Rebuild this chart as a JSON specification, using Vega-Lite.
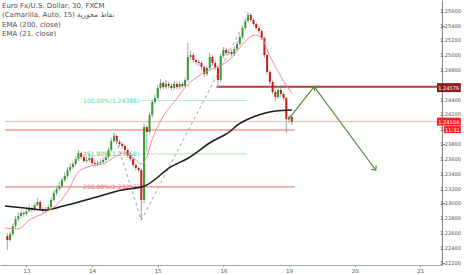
{
"$schema": "https://vega.github.io/schema/vega-lite/v6.json",
"width": 442, "height": 265,
"autosize": {"type": "none"},
"padding": {"left": 0, "top": 0, "right": 24, "bottom": 10},
"background": "white",
"config": {"view": {"stroke": null}, "font": "DejaVu Sans",
 "axis": {"labelOverlap": false, "labelBound": false, "grid": false, "title": null, "labelFont": "DejaVu Sans", "labelColor": "#555555"},
 "axisY": {"domainColor": "#888888", "tickColor": "#888888", "tickSize": 2.5, "labels": false},
 "axisX": {"domainColor": "#aaaaaa", "tickColor": "#aaaaaa", "tickSize": 2, "labelFontSize": 5.5, "labelPadding": 1}
},
"title": {"text": ["Euro Fx/U.S. Dollar, 30, FXCM", " (Camarilla, Auto, 15) نقاط محورية", "EMA (200, close)", "EMA (21, close)"], "anchor": "start", "frame": "group", "orient": "top", "font": "DejaVu Sans", "fontSize": 7, "fontWeight": "normal", "color": "#505050", "lineHeight": 9.3, "baseline": "top", "offset": 0, "dx": 2, "dy": 37},
"datasets": {
"candles": [
{"t":-7,"o":1.22560,"h":1.22600,"l":1.22371,"c":1.22506},
{"t":-6,"o":1.22506,"h":1.22620,"l":1.22480,"c":1.22587},
{"t":-5,"o":1.22587,"h":1.22730,"l":1.22560,"c":1.22695},
{"t":-4,"o":1.22695,"h":1.22830,"l":1.22670,"c":1.22790},
{"t":-3,"o":1.22790,"h":1.22880,"l":1.22760,"c":1.22830},
{"t":-2,"o":1.22830,"h":1.22910,"l":1.22800,"c":1.22871},
{"t":-1,"o":1.22871,"h":1.22900,"l":1.22820,"c":1.22857},
{"t":0,"o":1.22857,"h":1.22940,"l":1.22830,"c":1.22898},
{"t":1,"o":1.22898,"h":1.22980,"l":1.22880,"c":1.22938},
{"t":2,"o":1.22938,"h":1.22960,"l":1.22880,"c":1.22911},
{"t":3,"o":1.22911,"h":1.23010,"l":1.22890,"c":1.22979},
{"t":4,"o":1.22979,"h":1.23070,"l":1.22960,"c":1.23019},
{"t":5,"o":1.23019,"h":1.23040,"l":1.22900,"c":1.22925},
{"t":6,"o":1.22925,"h":1.22950,"l":1.22870,"c":1.22898},
{"t":7,"o":1.22898,"h":1.22950,"l":1.22870,"c":1.22911},
{"t":8,"o":1.22911,"h":1.22990,"l":1.22890,"c":1.22952},
{"t":9,"o":1.22952,"h":1.23080,"l":1.22930,"c":1.23046},
{"t":10,"o":1.23046,"h":1.23180,"l":1.23020,"c":1.23141},
{"t":11,"o":1.23141,"h":1.23240,"l":1.23110,"c":1.23195},
{"t":12,"o":1.23195,"h":1.23290,"l":1.23170,"c":1.23235},
{"t":13,"o":1.23235,"h":1.23350,"l":1.23200,"c":1.23316},
{"t":14,"o":1.23316,"h":1.23420,"l":1.23290,"c":1.23370},
{"t":15,"o":1.23370,"h":1.23490,"l":1.23340,"c":1.23451},
{"t":16,"o":1.23451,"h":1.23540,"l":1.23420,"c":1.23492},
{"t":17,"o":1.23492,"h":1.23570,"l":1.23460,"c":1.23532},
{"t":18,"o":1.23532,"h":1.23640,"l":1.23500,"c":1.23599},
{"t":19,"o":1.23599,"h":1.23720,"l":1.23570,"c":1.23680},
{"t":20,"o":1.23680,"h":1.23700,"l":1.23600,"c":1.23626},
{"t":21,"o":1.23626,"h":1.23650,"l":1.23540,"c":1.23572},
{"t":22,"o":1.23572,"h":1.23630,"l":1.23540,"c":1.23586},
{"t":23,"o":1.23586,"h":1.23660,"l":1.23560,"c":1.23613},
{"t":24,"o":1.23613,"h":1.23640,"l":1.23520,"c":1.23545},
{"t":25,"o":1.23545,"h":1.23580,"l":1.23500,"c":1.23532},
{"t":26,"o":1.23532,"h":1.23580,"l":1.23510,"c":1.23545},
{"t":27,"o":1.23545,"h":1.23600,"l":1.23520,"c":1.23559},
{"t":28,"o":1.23559,"h":1.23620,"l":1.23530,"c":1.23586},
{"t":29,"o":1.23586,"h":1.23670,"l":1.23560,"c":1.23626},
{"t":30,"o":1.23626,"h":1.23760,"l":1.23600,"c":1.23721},
{"t":31,"o":1.23721,"h":1.23880,"l":1.23700,"c":1.23842},
{"t":32,"o":1.23842,"h":1.23960,"l":1.23820,"c":1.23910},
{"t":33,"o":1.23910,"h":1.23930,"l":1.23800,"c":1.23829},
{"t":34,"o":1.23829,"h":1.23860,"l":1.23770,"c":1.23802},
{"t":35,"o":1.23802,"h":1.23830,"l":1.23740,"c":1.23775},
{"t":36,"o":1.23775,"h":1.23800,"l":1.23690,"c":1.23721},
{"t":37,"o":1.23721,"h":1.23740,"l":1.23620,"c":1.23653},
{"t":38,"o":1.23653,"h":1.23680,"l":1.23570,"c":1.23599},
{"t":39,"o":1.23599,"h":1.23620,"l":1.23490,"c":1.23518},
{"t":40,"o":1.23518,"h":1.23540,"l":1.23450,"c":1.23478},
{"t":41,"o":1.23478,"h":1.23500,"l":1.23420,"c":1.23451},
{"t":42,"o":1.23451,"h":1.23470,"l":1.22774,"c":1.23046},
{"t":43,"o":1.23046,"h":1.24080,"l":1.23000,"c":1.24031},
{"t":44,"o":1.24031,"h":1.24050,"l":1.23700,"c":1.23964},
{"t":45,"o":1.23964,"h":1.24230,"l":1.23940,"c":1.24193},
{"t":46,"o":1.24193,"h":1.24400,"l":1.24160,"c":1.24369},
{"t":47,"o":1.24369,"h":1.24470,"l":1.24340,"c":1.24423},
{"t":48,"o":1.24423,"h":1.24600,"l":1.24400,"c":1.24558},
{"t":49,"o":1.24558,"h":1.24680,"l":1.24530,"c":1.24625},
{"t":50,"o":1.24625,"h":1.24650,"l":1.24540,"c":1.24571},
{"t":51,"o":1.24571,"h":1.24660,"l":1.24540,"c":1.24612},
{"t":52,"o":1.24612,"h":1.24640,"l":1.24550,"c":1.24585},
{"t":53,"o":1.24585,"h":1.24620,"l":1.24520,"c":1.24558},
{"t":54,"o":1.24558,"h":1.24650,"l":1.24530,"c":1.24612},
{"t":55,"o":1.24612,"h":1.24640,"l":1.24540,"c":1.24571},
{"t":56,"o":1.24571,"h":1.24650,"l":1.24540,"c":1.24612},
{"t":57,"o":1.24612,"h":1.24640,"l":1.24550,"c":1.24585},
{"t":58,"o":1.24585,"h":1.24700,"l":1.24560,"c":1.24666},
{"t":59,"o":1.24666,"h":1.25165,"l":1.24640,"c":1.24976},
{"t":60,"o":1.24976,"h":1.25060,"l":1.24940,"c":1.25003},
{"t":61,"o":1.25003,"h":1.25030,"l":1.24900,"c":1.24935},
{"t":62,"o":1.24935,"h":1.24960,"l":1.24870,"c":1.24908},
{"t":63,"o":1.24908,"h":1.24940,"l":1.24850,"c":1.24895},
{"t":64,"o":1.24895,"h":1.24920,"l":1.24800,"c":1.24841},
{"t":65,"o":1.24841,"h":1.24860,"l":1.24700,"c":1.24747},
{"t":66,"o":1.24747,"h":1.24860,"l":1.24720,"c":1.24828},
{"t":67,"o":1.24828,"h":1.25040,"l":1.24800,"c":1.24976},
{"t":68,"o":1.24976,"h":1.25000,"l":1.24860,"c":1.24895},
{"t":69,"o":1.24895,"h":1.24930,"l":1.24800,"c":1.24828},
{"t":70,"o":1.24828,"h":1.24850,"l":1.24571,"c":1.24666},
{"t":71,"o":1.24666,"h":1.25020,"l":1.24640,"c":1.24989},
{"t":72,"o":1.24989,"h":1.25110,"l":1.24960,"c":1.25070},
{"t":73,"o":1.25070,"h":1.25100,"l":1.25000,"c":1.25030},
{"t":74,"o":1.25030,"h":1.25080,"l":1.25000,"c":1.25043},
{"t":75,"o":1.25043,"h":1.25070,"l":1.24980,"c":1.25016},
{"t":76,"o":1.25016,"h":1.25120,"l":1.24990,"c":1.25084},
{"t":77,"o":1.25084,"h":1.25190,"l":1.25060,"c":1.25151},
{"t":78,"o":1.25151,"h":1.25280,"l":1.25130,"c":1.25246},
{"t":79,"o":1.25246,"h":1.25400,"l":1.25220,"c":1.25367},
{"t":80,"o":1.25367,"h":1.25500,"l":1.25340,"c":1.25462},
{"t":81,"o":1.25462,"h":1.25583,"l":1.25440,"c":1.25543},
{"t":82,"o":1.25543,"h":1.25570,"l":1.25450,"c":1.25475},
{"t":83,"o":1.25475,"h":1.25500,"l":1.25390,"c":1.25421},
{"t":84,"o":1.25421,"h":1.25440,"l":1.25340,"c":1.25367},
{"t":85,"o":1.25367,"h":1.25400,"l":1.25300,"c":1.25327},
{"t":86,"o":1.25327,"h":1.25350,"l":1.25200,"c":1.25232},
{"t":87,"o":1.25232,"h":1.25250,"l":1.24970,"c":1.25003},
{"t":88,"o":1.25003,"h":1.25020,"l":1.24740,"c":1.24774},
{"t":89,"o":1.24774,"h":1.24800,"l":1.24600,"c":1.24639},
{"t":90,"o":1.24639,"h":1.24660,"l":1.24470,"c":1.24504},
{"t":91,"o":1.24504,"h":1.24530,"l":1.24380,"c":1.24436},
{"t":92,"o":1.24436,"h":1.24580,"l":1.24410,"c":1.24531},
{"t":93,"o":1.24531,"h":1.24560,"l":1.24440,"c":1.24477},
{"t":94,"o":1.24477,"h":1.24500,"l":1.24390,"c":1.24423},
{"t":95,"o":1.24423,"h":1.24440,"l":1.23950,"c":1.24139},
{"t":96,"o":1.24139,"h":1.24200,"l":1.24080,"c":1.24166},
{"t":97,"o":1.24166,"h":1.24180,"l":1.24060,"c":1.24104}
],
"ema21": [
{"t":-7.85,"v":1.22668},{"t":-3.21,"v":1.22655},{"t":1.07,"v":1.22776},{"t":6.42,"v":1.22871},{"t":11.77,"v":1.23006},{"t":15.34,"v":1.23181},{"t":18.9,"v":1.23424},{"t":22.47,"v":1.23492},{"t":28.89,"v":1.23545},{"t":32.1,"v":1.23626},{"t":36.02,"v":1.2368},{"t":39.59,"v":1.23599},{"t":42.08,"v":1.23532},{"t":43.87,"v":1.23613},{"t":45.65,"v":1.23829},{"t":49.22,"v":1.24126},{"t":54.56,"v":1.24396},{"t":58.84,"v":1.24598},{"t":63.48,"v":1.24733},{"t":69.54,"v":1.24841},{"t":74.18,"v":1.24935},{"t":78.82,"v":1.25138},{"t":81.31,"v":1.25232},{"t":83.81,"v":1.25273},{"t":85.95,"v":1.25232},{"t":89.16,"v":1.24976},{"t":92.72,"v":1.24733},{"t":94.86,"v":1.24598},{"t":97.0,"v":1.2449}
],
"ema200": [
{"t":-7.85,"v":1.22965},{"t":-0.71,"v":1.22938},{"t":6.42,"v":1.22911},{"t":13.55,"v":1.22965},{"t":24.25,"v":1.23073},{"t":34.95,"v":1.23181},{"t":43.15,"v":1.23235},{"t":52.78,"v":1.23492},{"t":59.2,"v":1.23613},{"t":68.12,"v":1.23842},{"t":73.11,"v":1.23937},{"t":77.75,"v":1.24072},{"t":84.88,"v":1.24193},{"t":90.94,"v":1.24247},{"t":97.0,"v":1.24261}
],
"hlines": [
{"name":"last","p":1.24104,"t1":-7.85,"t2":150.1},
{"name":"pivot","p":1.23991,"t1":-7.85,"t2":98.1},
{"name":"ext200","p":1.23223,"t1":-7.85,"t2":98.1},
{"name":"fib100","p":1.24388,"t1":41.4,"t2":80.6},
{"name":"fib161","p":1.23668,"t1":41.4,"t2":80.6},
{"name":"resistance","p":1.24576,"t1":69.5,"t2":150.1}
],
"fibtext": [
{"name":"fib100","label":"100.00%(1.24388)","p":1.24388,"t":20.7},
{"name":"fib161","label":"161.80%(1.23668)","p":1.23668,"t":20.7},
{"name":"ext200","label":"200.00%(1.23223)","p":1.23223,"t":20.7}
],
"fibpath": [
{"t":32.1,"p":1.23937},{"t":42,"p":1.22774},{"t":81.3,"p":1.25553}
],
"arrow": [
{"t":95.6,"p":1.24126},{"t":105.2,"p":1.24576},{"t":127.7,"p":1.23451}
],
"yticks": [
{"v":1.222},{"v":1.224},{"v":1.226},{"v":1.228},{"v":1.230},{"v":1.232},{"v":1.234},{"v":1.236},{"v":1.238},{"v":1.240},{"v":1.242},{"v":1.244},{"v":1.246},{"v":1.248},{"v":1.250},{"v":1.252},{"v":1.254},{"v":1.256}
]
},
"layer": [
{"data": {"name": "hlines"}, "mark": {"type": "rule"},
 "encoding": {
  "x": {"field": "t1", "type": "quantitative", "scale": {"domain": [-7.85, 150.1], "nice": false, "zero": false},
   "axis": {"orient": "bottom", "values": [0,24,48,72,96,120,144], "labelExpr": "['13','14','15','16','19','20','21'][round(datum.value/24)]"}},
  "x2": {"field": "t2"},
  "y": {"field": "p", "type": "quantitative", "scale": {"domain": [1.22169, 1.25745], "nice": false, "zero": false},
   "axis": {"orient": "right", "values": [1.222,1.224,1.226,1.228,1.23,1.232,1.234,1.236,1.238,1.24,1.242,1.244,1.246,1.248,1.25,1.252,1.254,1.256], "labels": false}},
  "color": {"field": "name", "type": "nominal", "legend": null,
   "scale": {"domain": ["last","pivot","ext200","fib100","fib161","resistance"], "range": ["#f7b3b3","#e46a6a","#e46a6a","#aef0d4","#a9e8b1","#b03c3c"]}},
  "strokeWidth": {"condition": {"test": "datum.name === 'resistance'", "value": 2}, "value": 1}
 }},
{"data": {"name": "yticks"}, "mark": {"type": "text", "align": "left", "baseline": "middle", "font": "DejaVu Sans", "fontSize": 5.1, "color": "#555555", "dx": 3},
 "encoding": {"x": {"datum": 150.1, "type": "quantitative"}, "y": {"field": "v", "type": "quantitative"}, "text": {"field": "v", "type": "quantitative", "format": ".5f"}}},
{"data": {"name": "fibtext"}, "mark": {"type": "text", "align": "left", "baseline": "middle", "font": "DejaVu Sans", "fontSize": 6},
 "encoding": {
  "x": {"field": "t", "type": "quantitative"},
  "y": {"field": "p", "type": "quantitative"},
  "text": {"field": "label"},
  "color": {"field": "name", "type": "nominal", "legend": null,
   "scale": {"domain": ["fib100","fib161","ext200"], "range": ["#4fd99c","#52c46a","#ec6c6c"]}}
 }},
{"data": {"name": "candles"}, "mark": {"type": "rule", "color": "#a3a3a3", "strokeWidth": 1},
 "encoding": {"x": {"field": "t", "type": "quantitative"}, "y": {"field": "l", "type": "quantitative"}, "y2": {"field": "h"}}},
{"data": {"name": "candles"}, "mark": {"type": "bar", "width": 2},
 "encoding": {"x": {"field": "t", "type": "quantitative"}, "y": {"field": "o", "type": "quantitative"}, "y2": {"field": "c"},
  "color": {"condition": {"test": "datum.c >= datum.o", "value": "#2f9e2f"}, "value": "#cc1a1a"}}},
{"data": {"name": "ema200"}, "mark": {"type": "line", "color": "#1a1a1a", "strokeWidth": 1.5, "interpolate": "monotone"},
 "encoding": {"x": {"field": "t", "type": "quantitative"}, "y": {"field": "v", "type": "quantitative"}}},
{"data": {"name": "ema21"}, "mark": {"type": "line", "color": "#f28a8a", "strokeWidth": 1, "interpolate": "monotone"},
 "encoding": {"x": {"field": "t", "type": "quantitative"}, "y": {"field": "v", "type": "quantitative"}}},
{"data": {"name": "fibpath"}, "mark": {"type": "line", "color": "#a0a0a0", "strokeWidth": 1, "strokeDash": [3, 3]},
 "encoding": {"x": {"field": "t", "type": "quantitative"}, "y": {"field": "p", "type": "quantitative"}}},
{"data": {"name": "arrow"}, "mark": {"type": "line", "color": "#4b8b2b", "strokeWidth": 1.2},
 "encoding": {"x": {"field": "t", "type": "quantitative"}, "y": {"field": "p", "type": "quantitative"}}},
{"data": {"values": [{"t":105.2,"p":1.24576}]}, "mark": {"type": "point", "shape": "M-1,1L0,0L1,1", "filled": false, "color": "#4b8b2b", "strokeWidth": 1.2, "size": 40, "angle": 40, "opacity": 1},
 "encoding": {"x": {"field": "t", "type": "quantitative"}, "y": {"field": "p", "type": "quantitative"}}},
{"data": {"values": [{"t":127.7,"p":1.23451}]}, "mark": {"type": "point", "shape": "M-1,1L0,0L1,1", "filled": false, "color": "#4b8b2b", "strokeWidth": 1.2, "size": 40, "angle": 142, "opacity": 1},
 "encoding": {"x": {"field": "t", "type": "quantitative"}, "y": {"field": "p", "type": "quantitative"}}},
{"data": {"values": [{"label":"1.24576","p":1.24576}]}, "mark": {"type": "rect", "color": "#8e1c1c", "yOffset": -3.5, "y2Offset": 5.5},
 "encoding": {"x": {"datum": 150.1, "type": "quantitative"}, "x2": {"datum": 158.8}, "y": {"field": "p", "type": "quantitative"}, "y2": {"field": "p"}}},
{"data": {"values": [{"label":"1.24104","p":1.24104}]}, "mark": {"type": "rect", "color": "#ff1f1f", "yOffset": -4, "y2Offset": 4},
 "encoding": {"x": {"datum": 150.1, "type": "quantitative"}, "x2": {"datum": 158.8}, "y": {"field": "p", "type": "quantitative"}, "y2": {"field": "p"}}},
{"data": {"values": [{"label":"11:31","p":1.24104}]}, "mark": {"type": "rect", "color": "#ff1f1f", "yOffset": 4.5, "y2Offset": 11.5},
 "encoding": {"x": {"datum": 152.6, "type": "quantitative"}, "x2": {"datum": 158.8}, "y": {"field": "p", "type": "quantitative"}, "y2": {"field": "p"}}},
{"data": {"values": [{"label":"1.24576","p":1.24576}]}, "mark": {"type": "text", "color": "white", "font": "DejaVu Sans", "fontSize": 5.1, "align": "center", "baseline": "middle", "dy": 1},
 "encoding": {"x": {"datum": 154.4, "type": "quantitative"}, "y": {"field": "p", "type": "quantitative"}, "text": {"field": "label"}}},
{"data": {"values": [{"label":"1.24104","p":1.24104}]}, "mark": {"type": "text", "color": "white", "font": "DejaVu Sans", "fontSize": 5.1, "align": "center", "baseline": "middle"},
 "encoding": {"x": {"datum": 154.4, "type": "quantitative"}, "y": {"field": "p", "type": "quantitative"}, "text": {"field": "label"}}},
{"data": {"values": [{"label":"11:31","p":1.24104}]}, "mark": {"type": "text", "color": "white", "font": "DejaVu Sans", "fontSize": 5.1, "align": "center", "baseline": "middle", "dy": 8},
 "encoding": {"x": {"datum": 155.7, "type": "quantitative"}, "y": {"field": "p", "type": "quantitative"}, "text": {"field": "label"}}}
],
"resolve": {"scale": {"color": "independent"}}
}
